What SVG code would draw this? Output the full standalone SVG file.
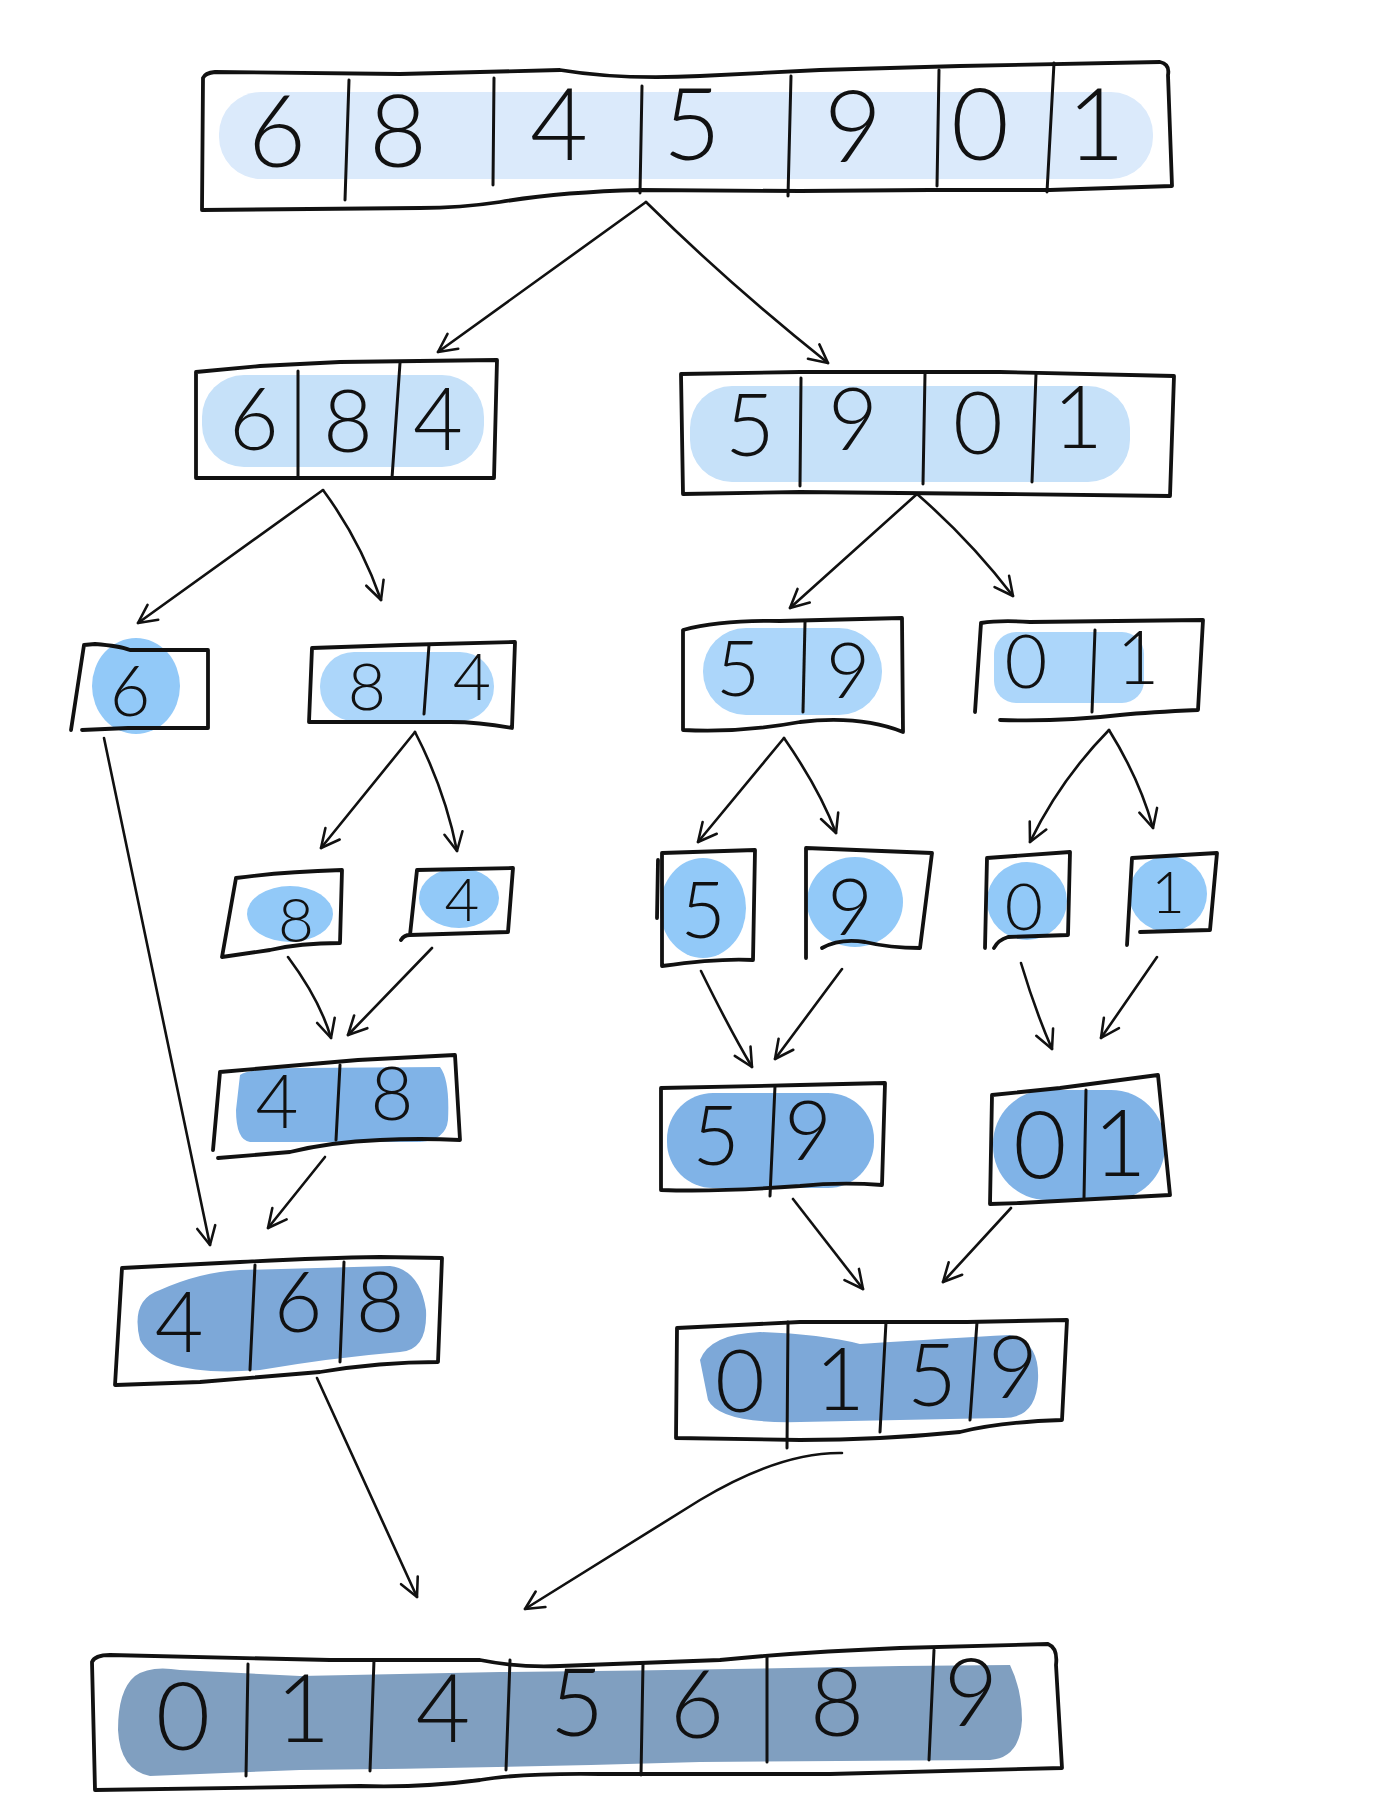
<svg xmlns="http://www.w3.org/2000/svg" width="1400" height="1808" viewBox="0 0 1400 1808">
<style>
.box{fill:none;stroke:#111;stroke-width:3.8;stroke-linejoin:round;stroke-linecap:round}
.div{fill:none;stroke:#111;stroke-width:3;stroke-linecap:round}
.arr{fill:none;stroke:#111;stroke-width:2.6;stroke-linecap:round;marker-end:url(#ah)}
.d{font-family:"Lato","Liberation Sans","DejaVu Sans",sans-serif;fill:#111;text-anchor:middle;font-weight:300}
.c1{fill:#dbeafb}.c2{fill:#c6e1f9}.c3{fill:#acd6fa}.c4{fill:#92c9f8}.c5{fill:#80b3e7}.c6{fill:#7da8d8}.c7{fill:#809fc0}
</style>
<defs>
<marker id="ah" viewBox="0 0 12 12" refX="11" refY="6" markerWidth="22" markerHeight="22" markerUnits="userSpaceOnUse" orient="auto">
<path d="M1,1 L11,6 L1,11" fill="none" stroke="#111" stroke-width="1.4" stroke-linecap="round" stroke-linejoin="round"/>
</marker>
</defs>
<rect width="1400" height="1808" fill="#fff"/>

<g id="n-top">
<rect class="c1" x="219" y="92" width="934" height="87" rx="42"/>
<path class="box" d="M203,78 Q205,73 215,72 L400,74 L560,70 Q620,80 700,76 L820,70 L960,66 L1160,62 Q1170,64 1168,75 L1172,186 L1050,190 L930,190 L800,191 L640,190 Q560,192 500,202 Q460,208 420,208 L202,210 Z"/>
<path class="div" d="M349,80 L345,200 M494,78 L493,185 M642,86 L640,193 M791,76 L788,196 M939,70 L937,186 M1054,63 L1047,192"/>
<g class="d" font-size="100">
<text x="277" y="167">6</text><text x="398" y="167">8</text><text x="559" y="160">4</text><text x="692" y="160">5</text><text x="853" y="162">9</text><text x="980" y="160">0</text><text x="1096" y="160">1</text>
</g>
</g>

<g id="n-684">
<rect class="c2" x="202" y="375" width="282" height="92" rx="42"/>
<path class="box" d="M196,372 L260,366 L340,362 L497,360 L494,478 L196,478 Z"/>
<path class="div" d="M298,371 L298,478 M400,363 L392,478"/>
<g class="d" font-size="86"><text x="254" y="450">6</text><text x="348" y="452">8</text><text x="438" y="450">4</text></g>
</g>

<g id="n-5901">
<rect class="c2" x="690" y="386" width="440" height="96" rx="42"/>
<path class="box" d="M681,374 L800,372 L1000,372 L1174,376 L1170,496 L1000,494 L800,492 L683,494 Z"/>
<path class="div" d="M801,378 L800,486 M925,374 L923,484 M1036,374 L1032,482"/>
<g class="d" font-size="86"><text x="750" y="456">5</text><text x="853" y="450">9</text><text x="978" y="454">0</text><text x="1078" y="448">1</text></g>
</g>

<g id="n-6">
<ellipse class="c4" cx="136" cy="686" rx="44" ry="48"/>
<path class="box" d="M84,645 L95,644 Q120,646 130,650 L208,650 L208,728 L128,728 L82,730 M84,645 L71,730"/>
<text class="d" x="130" y="716" font-size="70">6</text>
</g>

<g id="n-84">
<rect class="c3" x="320" y="652" width="174" height="69" rx="34"/>
<path class="box" d="M312,648 L400,645 L515,642 L512,728 Q480,722 450,722 L309,722 Z"/>
<path class="div" d="M429,645 L424,714"/>
<g class="d" font-size="66"><text x="367" y="710">8</text><text x="472" y="700">4</text></g>
</g>

<g id="n-59">
<rect class="c3" x="703" y="628" width="179" height="87" rx="43"/>
<path class="box" d="M683,630 Q720,620 780,621 L902,618 L903,732 Q860,715 800,722 Q740,733 683,730 Z"/>
<path class="div" d="M805,622 L803,712"/>
<g class="d" font-size="76"><text x="738" y="696">5</text><text x="848" y="698">9</text></g>
</g>

<g id="n-01">
<rect class="c3" x="994" y="632" width="150" height="71" rx="22"/>
<path class="box" d="M981,623 Q1000,620 1030,622 L1203,620 L1198,710 Q1150,712 1120,715 Q1060,722 1000,720 M981,623 L975,712"/>
<path class="div" d="M1095,630 L1092,712"/>
<g class="d" font-size="74"><text x="1026" y="688">0</text><text x="1138" y="684">1</text></g>
</g>

<g id="n-8">
<ellipse class="c4" cx="290" cy="914" rx="43" ry="28"/>
<path class="box" d="M236,878 Q280,872 342,870 L340,943 Q300,943 270,950 L222,957 M236,878 L222,957"/>
<text class="d" x="296" y="942" font-size="62">8</text>
</g>

<g id="n-4">
<ellipse class="c4" cx="459" cy="898" rx="40" ry="30"/>
<path class="box" d="M417,870 L513,868 L508,932 L410,935 Q404,935 401,940 M417,870 L410,935"/>
<text class="d" x="462" y="921" font-size="60">4</text>
</g>

<g id="n-5">
<ellipse class="c4" cx="703" cy="908" rx="43" ry="50"/>
<path class="box" d="M662,853 L755,850 L753,960 Q720,958 662,966 L662,853 M658,860 L657,918"/>
<text class="d" x="703" y="938" font-size="78">5</text>
</g>

<g id="n-9">
<ellipse class="c4" cx="855" cy="902" rx="48" ry="45"/>
<path class="box" d="M806,848 L932,853 L920,948 Q890,948 865,942 Q840,938 822,948 M806,848 L806,958"/>
<text class="d" x="850" y="935" font-size="78">9</text>
</g>

<g id="n-0">
<ellipse class="c4" cx="1027" cy="901" rx="40" ry="39"/>
<path class="box" d="M987,858 L1070,852 L1068,935 L1008,937 Q998,940 994,948 M987,858 L985,948"/>
<text class="d" x="1024" y="930" font-size="66">0</text>
</g>

<g id="n-1">
<ellipse class="c4" cx="1168" cy="894" rx="39" ry="38"/>
<path class="box" d="M1132,858 L1217,853 L1210,930 L1140,932 M1132,858 L1127,945"/>
<text class="d" x="1168" y="913" font-size="58">1</text>
</g>

<g id="n-48">
<path class="c5" d="M240,1075 Q250,1068 300,1068 L440,1067 Q450,1080 448,1120 Q446,1140 420,1142 L250,1142 Q236,1140 236,1110 Z"/>
<path class="box" d="M220,1072 L300,1065 L358,1060 L455,1055 L460,1140 Q420,1138 380,1140 Q330,1142 290,1152 L218,1158 M220,1072 L213,1150"/>
<path class="div" d="M340,1065 L336,1140"/>
<g class="d" font-size="74"><text x="277" y="1128">4</text><text x="392" y="1120">8</text></g>
</g>

<g id="n-59b">
<rect class="c5" x="667" y="1093" width="207" height="95" rx="46"/>
<path class="box" d="M661,1088 L800,1085 L885,1083 L882,1185 Q840,1182 800,1186 Q720,1192 661,1190 Z"/>
<path class="div" d="M775,1086 L770,1196"/>
<g class="d" font-size="82"><text x="716" y="1165">5</text><text x="808" y="1160">9</text></g>
</g>

<g id="n-01b">
<rect class="c5" x="993" y="1090" width="172" height="110" rx="54"/>
<path class="box" d="M992,1095 L1060,1088 Q1120,1080 1158,1075 L1170,1195 L1020,1203 L990,1204 Z"/>
<path class="div" d="M1086,1090 L1084,1198"/>
<g class="d" font-size="92"><text x="1040" y="1178">0</text><text x="1120" y="1176">1</text></g>
</g>

<g id="n-468">
<path class="c6" d="M160,1290 Q200,1272 240,1270 L390,1266 Q420,1270 426,1310 Q428,1350 400,1352 Q330,1358 260,1370 Q160,1378 140,1340 Q130,1300 160,1290 Z"/>
<path class="box" d="M122,1268 L240,1262 Q320,1258 380,1257 L442,1258 L438,1362 Q380,1362 320,1372 Q250,1378 200,1382 L116,1385 M122,1268 L115,1385"/>
<path class="div" d="M255,1265 L250,1370 M344,1262 L340,1362"/>
<g class="d" font-size="84"><text x="179" y="1352">4</text><text x="298" y="1332">6</text><text x="380" y="1332">8</text></g>
</g>

<g id="n-0159">
<path class="c6" d="M700,1360 Q710,1334 760,1332 Q820,1334 860,1344 Q950,1338 1010,1335 Q1040,1342 1038,1380 Q1036,1420 1000,1418 L800,1422 Q720,1424 708,1400 Z"/>
<path class="box" d="M677,1328 L800,1322 L967,1322 L1067,1320 L1062,1420 Q1000,1422 960,1432 Q880,1440 800,1440 L676,1438 Z"/>
<path class="div" d="M788,1322 L787,1448 M886,1322 L880,1432 M977,1322 L970,1420"/>
<g class="d" font-size="86"><text x="740" y="1412">0</text><text x="840" y="1410">1</text><text x="932" y="1406">5</text><text x="1013" y="1398">9</text></g>
</g>

<g id="n-final">
<path class="c7" d="M135,1676 Q150,1665 180,1670 L300,1676 L500,1672 Q700,1670 900,1666 L1010,1665 Q1022,1690 1022,1720 Q1020,1758 990,1760 L700,1762 Q500,1768 300,1770 L150,1776 Q120,1770 118,1730 Q118,1690 135,1676 Z"/>
<path class="box" d="M92,1662 Q95,1655 110,1655 L330,1660 L480,1660 Q520,1668 560,1666 L720,1660 Q800,1652 900,1648 L1048,1644 Q1058,1648 1056,1665 L1062,1768 L830,1774 L600,1774 Q520,1773 480,1780 Q420,1788 360,1786 L95,1790 Z"/>
<path class="div" d="M248,1664 L246,1776 M374,1660 L370,1771 M510,1660 L506,1770 M643,1664 L641,1775 M767,1656 L767,1762 M934,1650 L929,1760"/>
<g class="d" font-size="94"><text x="183" y="1750">0</text><text x="303" y="1742">1</text><text x="443" y="1742">4</text><text x="577" y="1736">5</text><text x="697" y="1738">6</text><text x="837" y="1736">8</text><text x="971" y="1726">9</text></g>
</g>

<g id="connectors">
<path class="arr" d="M646,202 L438,352"/>
<path class="arr" d="M646,202 Q730,285 828,363"/>
<path class="arr" d="M323,490 L138,623"/>
<path class="arr" d="M323,490 Q360,540 381,600"/>
<path class="arr" d="M917,494 L790,608"/>
<path class="arr" d="M917,494 Q970,540 1013,596"/>
<path class="arr" d="M104,738 L210,1245"/>
<path class="arr" d="M415,732 L321,848"/>
<path class="arr" d="M415,732 Q445,790 457,851"/>
<path class="arr" d="M784,738 L698,842"/>
<path class="arr" d="M784,738 Q820,790 836,833"/>
<path class="arr" d="M1109,730 Q1060,780 1030,842"/>
<path class="arr" d="M1109,730 Q1140,780 1153,828"/>
<path class="arr" d="M288,957 Q320,1000 331,1038"/>
<path class="arr" d="M432,948 L348,1035"/>
<path class="arr" d="M701,971 Q730,1030 752,1067"/>
<path class="arr" d="M842,969 L775,1059"/>
<path class="arr" d="M1021,963 Q1035,1010 1052,1049"/>
<path class="arr" d="M1157,957 L1101,1038"/>
<path class="arr" d="M325,1157 L268,1228"/>
<path class="arr" d="M793,1199 L863,1289"/>
<path class="arr" d="M1011,1208 L943,1282"/>
<path class="arr" d="M317,1378 L417,1597"/>
<path class="arr" d="M842,1453 Q780,1452 700,1500 Q600,1562 525,1609"/>
</g>
</svg>
